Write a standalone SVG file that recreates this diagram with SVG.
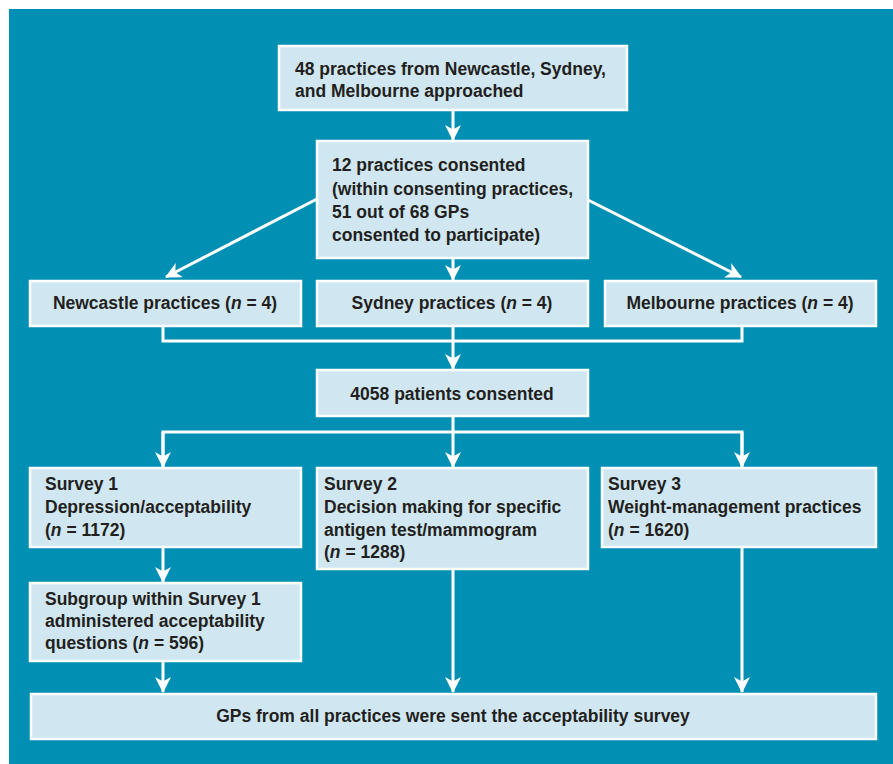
<svg xmlns="http://www.w3.org/2000/svg" width="893" height="764" viewBox="0 0 893 764">
<defs>
<style>
.box{fill:#D0E7F1;stroke:#fff;stroke-width:2.5}
.t{font-family:"Liberation Sans",Arial,sans-serif;font-weight:bold;font-size:17.5px;fill:#231F20}
.c{text-anchor:middle}
.ln{fill:none;stroke:#fff;stroke-width:3}
</style>
<marker id="ah" viewBox="0 0 16 16" refX="15" refY="8" markerWidth="16" markerHeight="16" markerUnits="userSpaceOnUse" orient="auto">
<path d="M0,0 L16,8 L0,16 L4.5,8 Z" fill="#fff"/>
</marker>
</defs>
<rect x="0" y="0" width="893" height="764" fill="#fff"/>
<rect x="9" y="9" width="884" height="755" fill="#018FB4"/>
<g id="connectors">
<path class="ln" d="M453,110 V140" marker-end="url(#ah)"/>
<path class="ln" d="M453,258 V280" marker-end="url(#ah)"/>
<path class="ln" d="M317,199 L166,277" marker-end="url(#ah)"/>
<path class="ln" d="M588,200 L741,277" marker-end="url(#ah)"/>
<path class="ln" d="M163,326 V341 H742 V326"/>
<path class="ln" d="M453,326 V369" marker-end="url(#ah)"/>
<path class="ln" d="M453,416 V432"/>
<path class="ln" d="M163,466 V432 H742 V466"/>
<path class="ln" d="M163,432 V467" marker-end="url(#ah)"/>
<path class="ln" d="M453,432 V467" marker-end="url(#ah)"/>
<path class="ln" d="M742,432 V467" marker-end="url(#ah)"/>
<path class="ln" d="M163,547 V582" marker-end="url(#ah)"/>
<path class="ln" d="M163,661 V692" marker-end="url(#ah)"/>
<path class="ln" d="M453,569 V692" marker-end="url(#ah)"/>
<path class="ln" d="M742,547 V692" marker-end="url(#ah)"/>
</g>
<g id="n1"><rect class="box" x="279" y="46" width="348" height="64"/>
<text class="t" x="295" y="75">48 practices from Newcastle, Sydney,</text>
<text class="t" x="295" y="97">and Melbourne approached</text></g>
<g id="n2"><rect class="box" x="317" y="141" width="271" height="117"/>
<text class="t" x="332" y="171">12 practices consented</text>
<text class="t" x="332" y="195">(within consenting practices,</text>
<text class="t" x="332" y="218">51 out of 68 GPs</text>
<text class="t" x="332" y="241">consented to participate)</text></g>
<g id="n3"><rect class="box" x="30" y="281" width="271" height="45"/>
<text class="t c" x="165" y="309">Newcastle practices (<tspan font-style="italic">n</tspan> = 4)</text></g>
<g id="n4"><rect class="box" x="317" y="281" width="271" height="45"/>
<text class="t c" x="452" y="309">Sydney practices (<tspan font-style="italic">n</tspan> = 4)</text></g>
<g id="n5"><rect class="box" x="605" y="281" width="271" height="45"/>
<text class="t c" x="740" y="309">Melbourne practices (<tspan font-style="italic">n</tspan> = 4)</text></g>
<g id="n6"><rect class="box" x="317" y="370" width="271" height="46"/>
<text class="t c" x="452" y="400">4058 patients consented</text></g>
<g id="n7"><rect class="box" x="30" y="468" width="271" height="79"/>
<text class="t" x="45" y="490">Survey 1</text>
<text class="t" x="45" y="513">Depression/acceptability</text>
<text class="t" x="45" y="536">(<tspan font-style="italic">n</tspan> = 1172)</text></g>
<g id="n8"><rect class="box" x="317" y="468" width="271" height="101"/>
<text class="t" x="324" y="490">Survey 2</text>
<text class="t" x="324" y="513">Decision making for specific</text>
<text class="t" x="324" y="536">antigen test/mammogram</text>
<text class="t" x="324" y="558">(<tspan font-style="italic">n</tspan> = 1288)</text></g>
<g id="n9"><rect class="box" x="602" y="468" width="274" height="79"/>
<text class="t" x="608" y="490">Survey 3</text>
<text class="t" x="608" y="513">Weight-management practices</text>
<text class="t" x="608" y="536">(<tspan font-style="italic">n</tspan> = 1620)</text></g>
<g id="n10"><rect class="box" x="30" y="583" width="271" height="78"/>
<text class="t" x="45" y="605">Subgroup within Survey 1</text>
<text class="t" x="45" y="627">administered acceptability</text>
<text class="t" x="45" y="649">questions (<tspan font-style="italic">n</tspan> = 596)</text></g>
<g id="n11"><rect class="box" x="31" y="694" width="845" height="45"/>
<text class="t c" x="453" y="722">GPs from all practices were sent the acceptability survey</text></g>
</svg>
